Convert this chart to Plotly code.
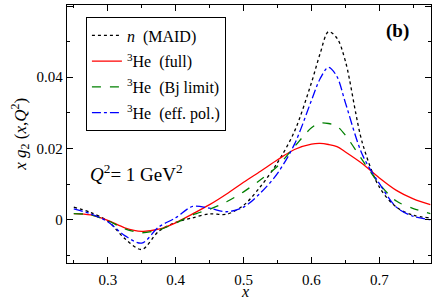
import plotly.graph_objects as go

x = [0.25, 0.275, 0.30, 0.325, 0.35, 0.375, 0.40, 0.425, 0.45, 0.475, 0.50, 0.525,
     0.55, 0.575, 0.60, 0.6125, 0.625, 0.6375, 0.65, 0.675, 0.70, 0.725, 0.75, 0.775]

n_maid = [0.0035, 0.0020, -0.0004, -0.0053, -0.0084, -0.0033, -0.0008, 0.0005, 0.0016, 0.0015,
          0.0040, 0.0093, 0.0160, 0.0248, 0.0385, 0.0465, 0.0528, 0.0510, 0.0445, 0.0215,
          0.0091, 0.0035, 0.0012, 0.0005]
he_full = [0.0017, 0.0013, -0.0002, -0.0023, -0.0033, -0.0027, -0.0009, 0.0016, 0.0042, 0.0072,
           0.0105, 0.0136, 0.0168, 0.0197, 0.0212, 0.0214, 0.0211, 0.0205, 0.0190, 0.0157,
           0.0117, 0.0082, 0.0058, 0.0042]
he_bj = [0.0017, 0.0013, -0.0003, -0.0026, -0.0037, -0.0029, -0.0010, 0.0013, 0.0029, 0.0050,
         0.0078, 0.0112, 0.0150, 0.0205, 0.0258, 0.0271, 0.0270, 0.0262, 0.0237, 0.0167,
         0.0100, 0.0052, 0.0031, 0.0017]
he_eff = [0.0030, 0.0016, -0.0006, -0.0045, -0.0066, -0.0021, 0.0005, 0.0037, 0.0032, 0.0022,
          0.0035, 0.0075, 0.0130, 0.0212, 0.0335, 0.0395, 0.0428, 0.0402, 0.0328, 0.0182,
          0.0101, 0.0035, 0.0009, 0.0000]

names = ["<i>n</i>  (MAID)", "<sup>3</sup>He  (full)", "<sup>3</sup>He  (Bj limit)", "<sup>3</sup>He  (eff. pol.)"]
series = [n_maid, he_full, he_bj, he_eff]
colors = ["#000000", "#ff0000", "#008000", "#0000ff"]
dashes = ["dot", "solid", "dash", "dashdot"]

ytickvals = [0, 0.02, 0.04, 0.06]
yticktext = ["0", "0.02", "0.04", "0.06"]
xtickvals = [0.3, 0.4, 0.5, 0.6, 0.7]
xticktext = ["0.3", "0.4", "0.5", "0.6", "0.7"]

font = "Liberation Serif, Times New Roman, serif"

fig = go.Figure()
for i, (nm, ys, c, d) in enumerate(zip(names, series, colors, dashes)):
    fig.add_trace(go.Scatter(x=x, y=ys, mode="lines", name=nm, legendgroup="g%d" % i,
                             line=dict(color=c, dash=d, width=1.3, shape="spline", smoothing=0.9)))

axis_common = dict(ticks="inside", ticklen=6, tickwidth=1, tickcolor="black",
                   showline=True, linecolor="black", linewidth=1.3, mirror="allticks",
                   showgrid=False, zeroline=False, automargin=False,
                   tickfont=dict(family=font, size=15, color="black"))

fig.update_layout(
    width=436, height=297,
    margin=dict(l=67, r=5, t=5, b=34),
    paper_bgcolor="white", plot_bgcolor="white",
    font=dict(family=font, size=15, color="black"),
    showlegend=True,
    legend=dict(x=0.052, y=0.952, xanchor="left", yanchor="top",
                bordercolor="black", borderwidth=1, bgcolor="white",
                font=dict(family=font, size=16), tracegroupgap=2,
                itemwidth=30),
    xaxis=dict(range=[0.24, 0.776], tickvals=xtickvals, ticktext=xticktext,
               ticklabelstandoff=3,
               minor=dict(dtick=0.05, tick0=0.25, ticks="inside", ticklen=3, tickcolor="black", showgrid=False),
               **axis_common),
    yaxis=dict(range=[-0.0122, 0.0603], tickvals=ytickvals, ticktext=yticktext,
               minor=dict(dtick=0.01, tick0=0, ticks="inside", ticklen=3, tickcolor="black", showgrid=False),
               **axis_common),
    annotations=[
        dict(text="<b>(b)</b>", x=0.946, y=0.9, xref="paper", yref="paper",
             xanchor="right", yanchor="middle", showarrow=False, font=dict(family=font, size=19)),
        dict(text="<i>Q</i><sup>2</sup>= 1 GeV<sup>2</sup>", x=0.058, y=0.35, xref="paper", yref="paper",
             xanchor="left", yanchor="middle", showarrow=False, font=dict(family=font, size=19)),
        dict(text="<i>x</i>", x=0.49, y=-0.112, xref="paper", yref="paper", yanchor="middle",
             showarrow=False, font=dict(family=font, size=16)),
        dict(text="<i>x g</i><sub>2</sub> (<i>x</i>,<i>Q</i><sup>2</sup>)", x=-0.13, y=0.5,
             xref="paper", yref="paper", textangle=-90, showarrow=False,
             xanchor="center", yanchor="middle", font=dict(family=font, size=17)),
    ],
)

fig.write_html("out.html", config={"displayModeBar": False},
               post_script="document.body.style.margin='0';document.body.style.padding='0';")
